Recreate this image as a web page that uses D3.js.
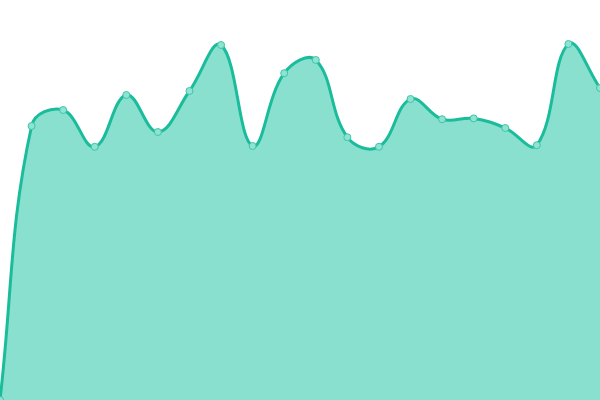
<!DOCTYPE html>
<html>
<head>
<meta charset="utf-8">
<script src="https://cdn.jsdelivr.net/npm/d3@7"></script>
<style>
  body { margin: 0; background: #fff; }
  .area { fill: #89e0cf; }
  .line { fill: none; stroke: #1abc9c; stroke-width: 3px; }
  .dot { fill: #8fe3d2; stroke: #3cc6a6; stroke-width: 1px; }
</style>
</head>
<body>
<div class="container"></div>
<script>
(function(){

var indexes = d3.range(20);
var values = [0, 68.5, 72.5, 63.3, 76.25, 67, 77.25, 88.75, 63.5, 81.7,
              85, 65.7, 63.3, 75.25, 70.2, 70.4, 68, 63.7, 89, 78];

var width = 600,
    height = 400,
    tension = 0.4;

var svg = d3.select(".container")
  .append("svg")
  .attr("width", width)
  .attr("height", height);

var x = d3.scaleLinear()
  .domain([0, indexes.length - 1])
  .range([0, width]);

var y = d3.scaleLinear()
  .domain([0, 100])
  .range([height, 0]);

// spline curve: control points scaled by the distance to the neighbours
function SplineCurve(context){
  this._context = context;
}
SplineCurve.prototype = {
  areaStart: function(){ this._line = 0; },
  areaEnd: function(){ this._line = NaN; },
  lineStart: function(){ this._pts = []; },
  point: function(px, py){ this._pts.push([+px, +py]); },
  lineEnd: function(){
    var ctx = this._context, p = this._pts, n = p.length;
    if (n){
      if (this._line) ctx.lineTo(p[0][0], p[0][1]);
      else ctx.moveTo(p[0][0], p[0][1]);
      var cps = p.map(function(cur, i){
        var prev = p[Math.max(i - 1, 0)],
            next = p[Math.min(i + 1, n - 1)],
            d01 = Math.hypot(cur[0] - prev[0], cur[1] - prev[1]),
            d12 = Math.hypot(next[0] - cur[0], next[1] - cur[1]),
            s01 = d01 / (d01 + d12) || 0,
            s12 = d12 / (d01 + d12) || 0,
            fa = tension * s01,
            fb = tension * s12,
            dx = next[0] - prev[0],
            dy = next[1] - prev[1];
        return {
          before: [cur[0] - fa * dx, cur[1] - fa * dy],
          after: [cur[0] + fb * dx, cur[1] + fb * dy]
        };
      });
      for (var i = 0; i < n - 1; i++){
        ctx.bezierCurveTo(cps[i].after[0], cps[i].after[1],
          cps[i + 1].before[0], cps[i + 1].before[1],
          p[i + 1][0], p[i + 1][1]);
      }
    }
    if (this._line || (this._line !== 0 && n === 1)) ctx.closePath();
    this._line = 1 - this._line;
  }
};
function curveSpline(context){ return new SplineCurve(context); }

var area = d3.area()
  .x(function(d, i){ return x(i); })
  .y0(height)
  .y1(function(d){ return y(d); })
  .curve(curveSpline);

var line = d3.line()
  .x(function(d, i){ return x(i); })
  .y(function(d){ return y(d); })
  .curve(curveSpline);

svg.append("path")
  .datum(values)
  .attr("class", "area")
  .attr("d", area);

svg.append("path")
  .datum(values)
  .attr("class", "line")
  .attr("d", line);

svg.selectAll(".dot")
  .data(values)
  .enter()
  .append("circle")
  .attr("class", "dot")
  .attr("cx", function(d, i){ return x(i); })
  .attr("cy", function(d){ return y(d); })
  .attr("r", 3.5);

})();
</script>
</body>
</html>
